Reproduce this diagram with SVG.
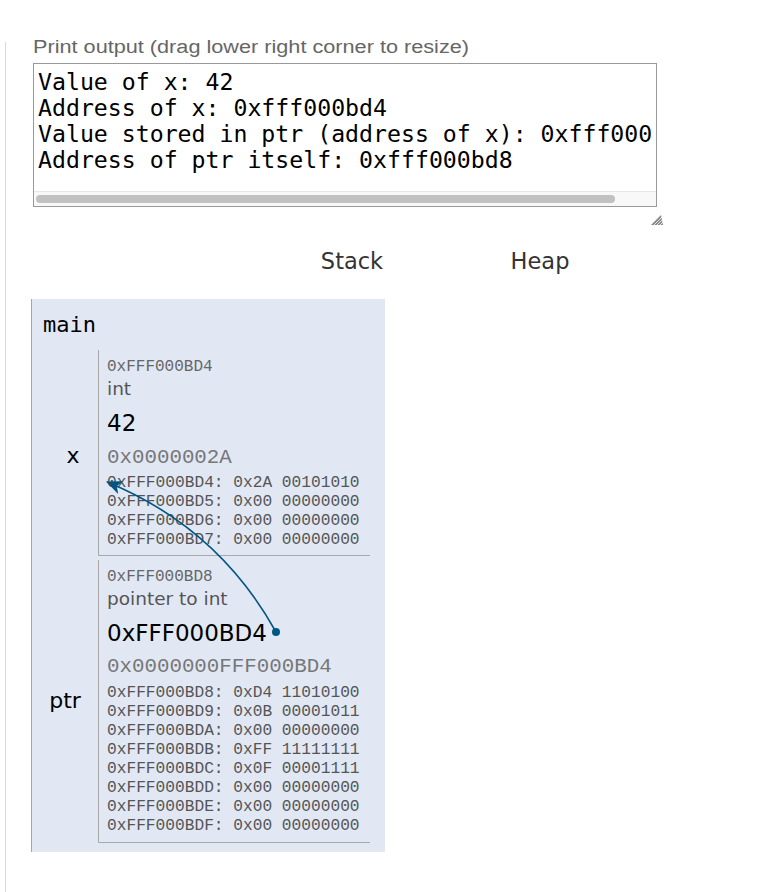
<svg xmlns="http://www.w3.org/2000/svg" width="760" height="892" viewBox="0 0 760 892">
<defs>
<style>
.mono{font-family:"DejaVu Sans Mono",monospace}
.cour{font-family:"Liberation Mono","Courier New",monospace}
.sans{font-family:"DejaVu Sans",Verdana,sans-serif}
.addr{font-size:16px;fill:#666}
.mem{font-size:16.2px;fill:#555}
.hex{font-size:20.8px;fill:#777}
.type{font-size:18.5px;fill:#555}
.val{font-size:23px;fill:#000}
.vname{font-size:22px;fill:#000}
.out{font-size:23.2px;fill:#000}
.border{stroke:#a8a8a8;stroke-width:1;fill:none}
</style>
<clipPath id="outclip"><rect x="34" y="64" width="622" height="128"/></clipPath>
<marker id="arrow" viewBox="0 0 16 14" refX="15" refY="7" markerWidth="16" markerHeight="14" markerUnits="userSpaceOnUse" orient="auto">
<path d="M0,0 L16,7 L0,14 L4.5,7 Z" fill="#005583"/>
</marker>
</defs>
<rect x="0" y="0" width="760" height="892" fill="#fff"/>
<line x1="5.5" y1="42" x2="5.5" y2="892" stroke="#d8d8d8" stroke-width="1"/>

<g id="print-output">
<text x="33" y="53" font-family="Liberation Sans, Arial, sans-serif" font-size="18" fill="#666" textLength="436" lengthAdjust="spacingAndGlyphs">Print output (drag lower right corner to resize)</text>
<rect x="33.5" y="63.5" width="623" height="143" fill="#fff" stroke="#999"/>
<rect x="34" y="192" width="622" height="14" fill="#f8f8f8"/>
<line x1="34" y1="191.5" x2="656" y2="191.5" stroke="#e6e6e6"/>
<rect x="36" y="195" width="579" height="8" rx="4" fill="#c1c1c1"/>
<g clip-path="url(#outclip)" class="mono out">
<text x="38" y="90">Value of x: 42</text>
<text x="38" y="116">Address of x: 0xfff000bd4</text>
<text x="38" y="142">Value stored in ptr (address of x): 0xfff000</text>
<text x="38" y="168">Address of ptr itself: 0xfff000bd8</text>
</g>
<path d="M651,225 L661,215 L663,225 Z" fill="#888"/>
<g stroke="#fff" stroke-width="0.8">
<line x1="654" y1="225" x2="662" y2="217"/>
<line x1="657" y1="225" x2="663" y2="219"/>
<line x1="660" y1="225" x2="663" y2="222"/>
</g>
</g>

<g id="headers" class="sans" font-size="22.5" fill="#333" text-anchor="middle">
<text x="352" y="269">Stack</text>
<text x="540" y="269">Heap</text>
</g>

<g id="frame-main">
<rect x="31" y="299" width="354" height="553" fill="#e1e8f4"/>
<line x1="31.5" y1="299" x2="31.5" y2="852" stroke="#a0a8b4"/>
<text x="43" y="332" class="mono" font-size="22" fill="#000">main</text>
</g>

<g id="var-x">
<path class="border" d="M98.5,350 V555.5 H370"/>
<text x="73" y="463" class="sans vname" text-anchor="middle">x</text>
<text x="107" y="371" class="cour addr">0xFFF000BD4</text>
<text x="107" y="395" class="sans type">int</text>
<text x="107" y="431" class="sans val">42</text>
<text x="107" y="463" class="cour hex">0x0000002A</text>
<g class="cour mem">
<text x="107" y="487">0xFFF000BD4: 0x2A 00101010</text>
<text x="107" y="506">0xFFF000BD5: 0x00 00000000</text>
<text x="107" y="525">0xFFF000BD6: 0x00 00000000</text>
<text x="107" y="544">0xFFF000BD7: 0x00 00000000</text>
</g>
</g>

<g id="var-ptr">
<path class="border" d="M98.5,560 V842.5 H370"/>
<text x="65" y="708" class="sans vname" text-anchor="middle">ptr</text>
<text x="107" y="581" class="cour addr">0xFFF000BD8</text>
<text x="107" y="605" class="sans type">pointer to int</text>
<text x="107" y="641" class="sans val">0xFFF000BD4</text>
<text x="107" y="672" class="cour hex">0x0000000FFF000BD4</text>
<g class="cour mem">
<text x="107" y="697">0xFFF000BD8: 0xD4 11010100</text>
<text x="107" y="716">0xFFF000BD9: 0x0B 00001011</text>
<text x="107" y="735">0xFFF000BDA: 0x00 00000000</text>
<text x="107" y="754">0xFFF000BDB: 0xFF 11111111</text>
<text x="107" y="773">0xFFF000BDC: 0x0F 00001111</text>
<text x="107" y="792">0xFFF000BDD: 0x00 00000000</text>
<text x="107" y="811">0xFFF000BDE: 0x00 00000000</text>
<text x="107" y="830">0xFFF000BDF: 0x00 00000000</text>
</g>
</g>

<g id="connectors">
<path d="M276,632 C256,596 210,524 107,482" fill="none" stroke="#005583" stroke-width="1.6" marker-end="url(#arrow)"/>
<circle cx="276" cy="632" r="4" fill="#005583"/>
</g>
</svg>
